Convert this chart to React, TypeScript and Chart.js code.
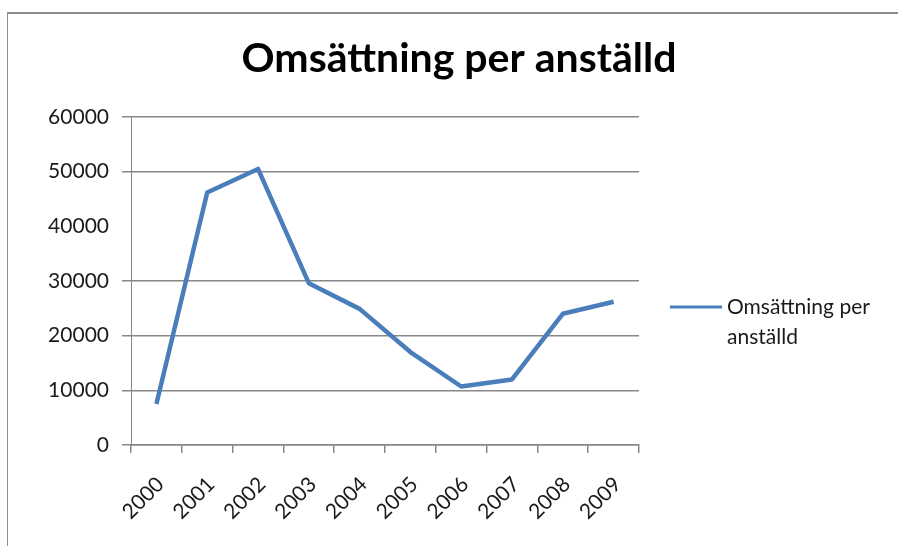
import React, { useEffect, useRef } from 'react';
import { Chart, registerables } from 'chart.js';

Chart.register(...registerables);

// ---- data ----
const years = ['2000', '2001', '2002', '2003', '2004', '2005', '2006', '2007', '2008', '2009'];
const omsattningPerAnstalld = [7500, 46200, 50500, 29600, 24900, 17000, 10700, 12000, 24000, 26200];
const seriesLabel = 'Omsättning per anställd';
const chartTitle = 'Omsättning per anställd';
const yMin = 0;
const yMax = 60000;
const yStep = 10000;
const gridValuesNotShown = [40000];

const FONT = 'Lato, "Open Sans", "Noto Sans", sans-serif';
const LINE_COLOR = '#4A7EBB';
const AXIS_COLOR = '#888888';
const TEXT_COLOR = '#1a1a1a';

// Title drawn centred over the whole chart object (like Excel), not only over the plot area
const excelTitle = {
  id: 'excelTitle',
  afterDraw(chart: any) {
    const { ctx } = chart;
    ctx.save();
    ctx.font = `bold 41px ${FONT}`;
    ctx.fillStyle = '#000';
    ctx.textAlign = 'center';
    ctx.textBaseline = 'middle';
    ctx.fillText(chartTitle, chart.width / 2 + 10, 59);
    ctx.restore();
  },
};

// Horizontal gridlines and y tick marks, taken from the y scale's own ticks
const yGridLines = {
  id: 'yGridLines',
  beforeDatasetsDraw(chart: any) {
    const { ctx, chartArea } = chart;
    const y = chart.scales.y;
    ctx.save();
    ctx.strokeStyle = AXIS_COLOR;
    ctx.lineWidth = 1.5;
    for (const t of y.ticks) {
      if (gridValuesNotShown.some((h) => Math.abs(t.value - h) < 1e-6)) continue;
      const py = Math.round(y.getPixelForValue(t.value) - 0.75) + 0.75;
      ctx.beginPath();
      ctx.moveTo(chartArea.left - 9, py);
      ctx.lineTo(chartArea.right, py);
      ctx.stroke();
    }
    ctx.restore();
  },
};

// Legend on the right with wrapped text
const wrappedLegend = {
  id: 'wrappedLegend',
  afterDraw(chart: any) {
    const { ctx, chartArea } = chart;
    const ds = chart.data.datasets[0];
    const lineX0 = chartArea.right + 31;
    const lineX1 = lineX0 + 52;
    const textX = lineX1 + 5;
    const firstY = chartArea.top + 190;
    const lineHeight = 30;
    ctx.save();
    ctx.font = `21px ${FONT}`;
    const maxW = chart.width - textX - 8;
    const words = String(ds.label).split(' ');
    const lines: string[] = [];
    let cur = '';
    for (const w of words) {
      const test = cur ? cur + ' ' + w : w;
      if (ctx.measureText(test).width > maxW && cur) {
        lines.push(cur);
        cur = w;
      } else {
        cur = test;
      }
    }
    if (cur) lines.push(cur);
    ctx.strokeStyle = ds.borderColor;
    ctx.lineWidth = 3;
    ctx.beginPath();
    ctx.moveTo(lineX0, firstY);
    ctx.lineTo(lineX1, firstY);
    ctx.stroke();
    ctx.fillStyle = TEXT_COLOR;
    ctx.textBaseline = 'middle';
    ctx.textAlign = 'left';
    lines.forEach((l, i) => ctx.fillText(l, textX, firstY + i * lineHeight));
    ctx.restore();
  },
};

export default function App() {
  const canvasRef = useRef<HTMLCanvasElement | null>(null);

  useEffect(() => {
    const canvas = canvasRef.current;
    if (!canvas) return;
    const chart = new Chart(canvas, {
      type: 'line',
      data: {
        labels: years,
        datasets: [
          {
            label: seriesLabel,
            data: omsattningPerAnstalld,
            borderColor: LINE_COLOR,
            backgroundColor: LINE_COLOR,
            borderWidth: 4.5,
            pointRadius: 0,
            pointHoverRadius: 0,
            tension: 0,
            borderJoinStyle: 'round',
            borderCapStyle: 'butt',
            fill: false,
          },
        ],
      },
      options: {
        responsive: false,
        animation: false,
        devicePixelRatio: 1,
        layout: { padding: { left: 20, right: 259, top: 117, bottom: 0 } },
        plugins: {
          legend: { display: false },
          tooltip: { enabled: false },
          title: { display: false },
        },
        scales: {
          x: {
            type: 'category',
            offset: true,
            grid: {
              display: true,
              drawOnChartArea: false,
              drawTicks: true,
              tickLength: 8,
              color: AXIS_COLOR,
              lineWidth: 1.5,
              offset: true,
            },
            border: { display: true, color: AXIS_COLOR, width: 1.5 },
            ticks: {
              color: TEXT_COLOR,
              font: { family: FONT, size: 21 },
              minRotation: 45,
              maxRotation: 45,
              padding: 19,
              labelOffset: 4,
              autoSkip: false,
            },
            afterFit: (s: any) => {
              s.height = 101;
            },
          },
          y: {
            type: 'linear',
            position: 'left',
            min: yMin,
            max: yMax,
            grid: {
              display: false,
              drawTicks: true,
              tickLength: 9,
            },
            border: { display: true, color: AXIS_COLOR, width: 1 },
            ticks: {
              stepSize: yStep,
              color: TEXT_COLOR,
              font: { family: FONT, size: 21 },
              padding: 13,
              callback: (v: any) => String(v),
            },
            afterFit: (s: any) => {
              s.width = 111;
            },
          },
        },
      },
      plugins: [yGridLines, excelTitle, wrappedLegend],
    } as any);
    return () => chart.destroy();
  }, []);

  return (
    <div
      style={{
        position: 'fixed',
        left: 0,
        top: 0,
        width: 898,
        height: 546,
        overflow: 'hidden',
        background: '#ffffff',
      }}
    >
      <div
        style={{
          position: 'absolute',
          left: 7,
          top: 12,
          width: 1000,
          height: 700,
          borderTop: '2px solid #8c8c8c',
          borderLeft: '1px solid #8c8c8c',
        }}
      />
      <canvas
        ref={canvasRef}
        width={898}
        height={546}
        style={{ position: 'absolute', left: 0, top: 0, width: 898, height: 546 }}
      />
    </div>
  );
}
